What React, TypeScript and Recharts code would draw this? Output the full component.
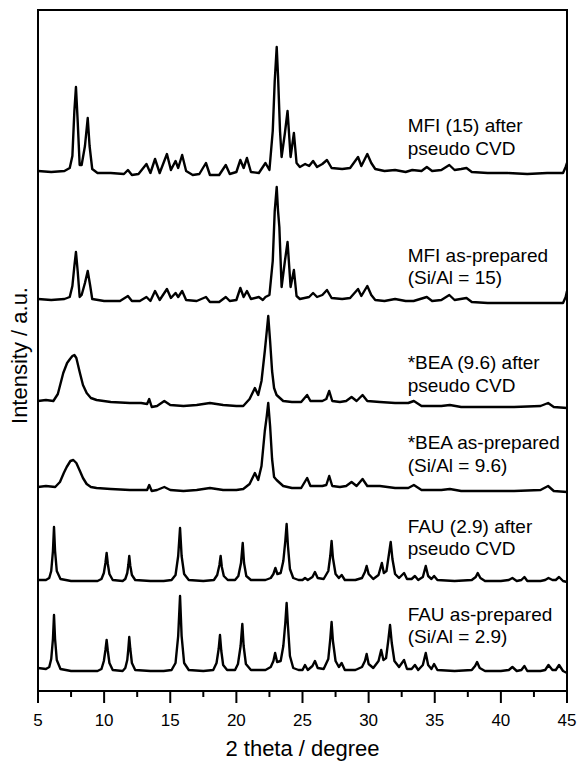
import { LineChart, Line, XAxis, YAxis, ReferenceArea, ReferenceDot, Label } from 'recharts';

// XRD patterns, [2 theta, stacked intensity]
const mfiCvd: [number, number][] = [
  [5.0, 520], [6.0, 519], [7.0, 520], [7.4, 523], [7.6, 535], [7.75, 580], [7.87, 604], [8.0, 570],
  [8.15, 526], [8.3, 526], [8.55, 545], [8.76, 573], [8.9, 545], [9.1, 522], [9.5, 518], [10.5, 518],
  [11.5, 517], [11.8, 521], [12.1, 516], [12.6, 517], [13.2, 527], [13.5, 518], [13.85, 532], [14.2, 518],
  [14.75, 537], [15.05, 521], [15.4, 530], [15.6, 523], [15.9, 536], [16.2, 520], [16.7, 516], [17.2, 517],
  [17.7, 528], [18.0, 516], [18.7, 516], [19.2, 526], [19.5, 517], [20.0, 519], [20.3, 531], [20.55, 523],
  [20.8, 533], [21.1, 519], [21.7, 518], [22.2, 528], [22.5, 521], [22.75, 560], [22.9, 610], [23.05, 644],
  [23.15, 615], [23.3, 560], [23.42, 534], [23.67, 558], [23.87, 580], [24.1, 534], [24.35, 558], [24.55, 528],
  [24.8, 524], [25.2, 527], [25.5, 525], [25.8, 530], [26.1, 524], [26.5, 527], [26.85, 531], [27.2, 523],
  [28.0, 522], [28.6, 523], [29.2, 534], [29.45, 525], [29.9, 537], [30.2, 528], [30.5, 522], [31.2, 520],
  [32.0, 521], [32.8, 519], [33.3, 521], [34.0, 520], [34.4, 524], [34.8, 520], [35.5, 521], [36.1, 526],
  [36.5, 521], [37.0, 522], [37.4, 523], [37.8, 519], [39.0, 518], [40.5, 518], [42.0, 517], [43.5, 518],
  [44.7, 518], [44.9, 524], [45.0, 528],
];

const mfiAs: [number, number][] = [
  [5.0, 392], [6.0, 391], [7.0, 392], [7.4, 394], [7.6, 405], [7.75, 425], [7.87, 439], [8.0, 420],
  [8.15, 394], [8.3, 396], [8.55, 408], [8.76, 420], [8.95, 405], [9.1, 392], [10.0, 390], [11.2, 390],
  [11.8, 395], [12.1, 390], [12.7, 390], [13.2, 394], [13.5, 390], [13.85, 400], [14.2, 391], [14.75, 402],
  [15.05, 393], [15.4, 398], [15.6, 394], [15.9, 400], [16.2, 391], [17.0, 390], [17.7, 394], [18.0, 389],
  [18.7, 389], [19.2, 394], [19.5, 390], [20.0, 391], [20.3, 403], [20.55, 394], [20.8, 400], [21.1, 392],
  [21.7, 394], [22.0, 391], [22.2, 394], [22.5, 396], [22.75, 430], [22.9, 480], [23.05, 504], [23.15, 480],
  [23.25, 464], [23.42, 404], [23.67, 430], [23.87, 449], [24.1, 404], [24.35, 421], [24.55, 395], [24.8, 392],
  [25.5, 394], [25.8, 398], [26.1, 394], [26.5, 396], [26.85, 401], [27.2, 393], [28.0, 392], [28.6, 393],
  [29.2, 402], [29.45, 395], [29.9, 405], [30.2, 396], [30.5, 391], [31.2, 390], [32.0, 392], [32.8, 390],
  [33.4, 390], [34.4, 394], [34.8, 390], [35.5, 391], [36.1, 396], [36.5, 391], [37.4, 393], [37.8, 389],
  [39.0, 388], [41.0, 388], [43.0, 388], [44.7, 388], [44.9, 394], [45.0, 400],
];

const beaCvd: [number, number][] = [
  [5.0, 290], [5.6, 291], [6.16, 290], [6.5, 297], [6.91, 318], [7.2, 328], [7.42, 332], [7.6, 335],
  [7.75, 336], [7.9, 333], [8.17, 318], [8.4, 306], [8.68, 298], [9.0, 293], [9.43, 291], [10.5, 289],
  [11.95, 288], [12.8, 288], [13.25, 287], [13.41, 292], [13.6, 284], [14.0, 285], [14.55, 290], [15.0, 286],
  [16.0, 285], [17.0, 286], [18.0, 288], [19.0, 286], [20.0, 285], [20.52, 285], [21.0, 292], [21.4, 303],
  [21.65, 296], [21.9, 310], [22.15, 340], [22.3, 360], [22.41, 375], [22.55, 350], [22.7, 320], [22.85, 303],
  [23.04, 296], [23.54, 290], [24.2, 289], [24.9, 289], [25.35, 296], [25.6, 290], [26.5, 290], [26.8, 292],
  [27.02, 300], [27.25, 290], [27.83, 289], [28.3, 290], [28.71, 294], [29.09, 290], [29.54, 296], [29.9, 290],
  [30.85, 289], [32.0, 288], [33.0, 288], [33.42, 290], [34.0, 285], [35.5, 285], [36.14, 286], [37.0, 284],
  [39.0, 284], [41.0, 284], [43.0, 285], [43.57, 288], [44.0, 284], [45.0, 283],
];

const beaAs: [number, number][] = [
  [5.0, 204], [5.6, 205], [6.3, 204], [6.66, 209], [6.95, 218], [7.17, 224], [7.45, 230], [7.67, 231],
  [7.9, 228], [8.17, 220], [8.4, 213], [8.68, 207], [9.0, 204], [9.43, 203], [10.5, 202], [11.95, 201],
  [12.8, 201], [13.25, 201], [13.41, 206], [13.6, 200], [14.0, 201], [14.55, 204], [15.0, 201], [16.0, 200],
  [17.0, 201], [18.0, 203], [19.0, 201], [20.0, 201], [20.52, 202], [21.0, 207], [21.4, 218], [21.65, 211],
  [21.9, 225], [22.15, 260], [22.3, 275], [22.41, 288], [22.55, 265], [22.7, 232], [22.85, 214], [23.04, 211],
  [23.54, 205], [24.2, 203], [24.9, 203], [25.35, 213], [25.6, 205], [26.5, 205], [26.8, 206], [27.02, 215],
  [27.25, 205], [27.83, 204], [28.3, 205], [28.71, 209], [29.09, 205], [29.54, 212], [29.9, 205], [30.85, 205],
  [32.0, 203], [33.0, 203], [33.42, 206], [34.0, 201], [35.5, 201], [36.14, 202], [37.0, 200], [39.0, 200],
  [41.0, 200], [43.0, 201], [43.57, 205], [44.0, 200], [45.0, 199],
];

const fauCvd: [number, number][] = [
  [5.0, 111], [5.6, 111], [5.85, 113], [6.0, 120], [6.13, 140], [6.21, 164], [6.29, 140], [6.42, 120],
  [6.7, 112], [7.5, 110], [8.5, 110], [9.5, 110], [9.8, 112], [9.98, 118], [10.1, 128], [10.19, 138],
  [10.28, 127], [10.4, 117], [10.65, 111], [11.4, 110], [11.6, 112], [11.75, 118], [11.83, 126], [11.9, 135],
  [11.98, 125], [12.1, 116], [12.35, 111], [13.5, 110], [14.5, 110], [15.1, 111], [15.4, 116], [15.6, 135],
  [15.74, 163], [15.86, 135], [16.05, 117], [16.4, 111], [17.5, 110], [18.3, 111], [18.55, 116], [18.72, 126],
  [18.81, 135], [18.9, 124], [19.05, 115], [19.35, 111], [19.9, 111], [20.15, 115], [20.35, 128], [20.48, 148],
  [20.58, 128], [20.75, 115], [21.1, 111], [22.2, 111], [22.6, 113], [22.8, 117], [22.95, 123], [23.1, 117],
  [23.35, 118], [23.55, 130], [23.7, 150], [23.8, 167], [23.9, 145], [24.05, 122], [24.3, 113], [24.7, 111],
  [25.0, 111], [25.19, 113], [25.4, 111], [25.75, 114], [25.94, 119], [26.15, 113], [26.6, 112], [26.95, 120],
  [27.1, 135], [27.2, 150], [27.3, 133], [27.5, 117], [27.75, 113], [27.96, 116], [28.2, 111], [29.0, 111],
  [29.5, 113], [29.72, 119], [29.85, 125], [30.0, 117], [30.35, 112], [30.75, 116], [31.0, 128], [31.15, 118],
  [31.35, 120], [31.55, 138], [31.67, 149], [31.8, 132], [32.0, 117], [32.3, 113], [32.68, 118], [32.9, 112],
  [33.25, 112], [33.5, 115], [33.75, 111], [34.1, 114], [34.32, 125], [34.5, 115], [34.75, 112], [34.95, 115],
  [35.2, 111], [36.5, 110], [37.8, 111], [38.1, 114], [38.25, 118], [38.45, 113], [38.8, 110], [40.0, 110],
  [40.6, 111], [40.87, 113], [41.2, 110], [41.55, 111], [41.78, 114], [42.0, 110], [43.0, 110], [43.35, 111],
  [43.6, 113], [43.9, 111], [44.15, 111], [44.4, 114], [44.7, 110], [45.0, 109],
];

const fauAs: [number, number][] = [
  [5.0, 23], [5.6, 22], [5.85, 24], [6.0, 32], [6.13, 52], [6.21, 76], [6.29, 52], [6.42, 31],
  [6.7, 22], [7.5, 20], [8.5, 20], [9.5, 20], [9.8, 22], [9.98, 30], [10.1, 41], [10.19, 51],
  [10.28, 40], [10.4, 28], [10.65, 21], [11.4, 20], [11.6, 23], [11.75, 31], [11.83, 42], [11.9, 54],
  [11.98, 42], [12.1, 28], [12.35, 21], [13.5, 20], [14.5, 20], [15.1, 21], [15.4, 28], [15.6, 55],
  [15.74, 95], [15.86, 55], [16.05, 28], [16.4, 21], [17.5, 20], [18.25, 21], [18.5, 28], [18.66, 42],
  [18.76, 56], [18.86, 40], [19.0, 26], [19.3, 21], [19.9, 21], [20.12, 27], [20.32, 45], [20.45, 67],
  [20.55, 45], [20.72, 27], [21.1, 21], [22.2, 21], [22.6, 24], [22.8, 30], [22.93, 38], [23.08, 29],
  [23.35, 30], [23.55, 45], [23.7, 68], [23.8, 88], [23.9, 65], [24.05, 35], [24.3, 23], [24.7, 21],
  [25.0, 21], [25.19, 26], [25.4, 21], [25.75, 25], [25.94, 30], [26.15, 23], [26.6, 22], [26.95, 32],
  [27.1, 52], [27.2, 69], [27.3, 50], [27.5, 30], [27.75, 24], [27.96, 28], [28.2, 21], [29.0, 21],
  [29.5, 24], [29.72, 30], [29.85, 37], [30.0, 27], [30.35, 23], [30.75, 30], [30.95, 41], [31.12, 31],
  [31.32, 33], [31.5, 52], [31.62, 66], [31.75, 48], [31.95, 30], [32.3, 24], [32.68, 31], [32.9, 22],
  [33.25, 22], [33.5, 26], [33.75, 21], [34.1, 26], [34.32, 38], [34.5, 26], [34.75, 22], [34.95, 27],
  [35.2, 21], [36.5, 20], [37.8, 21], [38.05, 25], [38.2, 29], [38.4, 23], [38.8, 20], [40.0, 20],
  [40.6, 21], [40.87, 24], [41.2, 20], [41.55, 21], [41.78, 25], [42.0, 20], [43.0, 20], [43.35, 21],
  [43.6, 26], [43.9, 21], [44.15, 21], [44.4, 26], [44.7, 20], [45.0, 18],
];

const traces = [mfiCvd, mfiAs, beaCvd, beaAs, fauCvd, fauAs];

const sampleNames: [string, string][] = [
  ['MFI (15) after', 'pseudo CVD'],
  ['MFI as-prepared', '(Si/Al = 15)'],
  ['*BEA (9.6) after', 'pseudo CVD'],
  ['*BEA as-prepared', '(Si/Al = 9.6)'],
  ['FAU (2.9) after', 'pseudo CVD'],
  ['FAU as-prepared', '(Si/Al = 2.9)'],
];
// where each two-line label starts (2 theta, intensity of first baseline)
const labelAnchorX = 32.95;
const labelAnchorY = [559, 429.5, 321.7, 241.7, 158.3, 70.3];

const majorTicks = [5, 10, 15, 20, 25, 30, 35, 40, 45];
const allTicks = [5, 7.5, 10, 12.5, 15, 17.5, 20, 22.5, 25, 27.5, 30, 32.5, 35, 37.5, 40, 42.5, 45];

const FONT = '"Liberation Sans", Arial, sans-serif';

function XTick(props: any) {
  const { x, y, payload } = props;
  const major = majorTicks.includes(payload.value);
  return (
    <g>
      <line x1={x} x2={x} y1={y - 12} y2={major ? y : y - 6} stroke="#000" strokeWidth={2} />
      {major && (
        <text x={x} y={y + 23} textAnchor="middle" fontSize={17} fill="#000" fontFamily={FONT}>
          {payload.value}
        </text>
      )}
    </g>
  );
}

function SampleLabel(props: any) {
  const { viewBox, lines } = props;
  const x = viewBox.x;
  return (
    <text x={x} y={viewBox.y} fontSize={19} fill="#000" fontFamily={FONT}>
      <tspan x={x} dy={0}>{lines[0]}</tspan>
      <tspan x={x} dy={22.5}>{lines[1]}</tspan>
    </text>
  );
}

function YTitle(props: any) {
  const { viewBox } = props;
  const cx = viewBox.x + viewBox.width / 2;
  const cy = viewBox.y + viewBox.height / 2 + 5;
  return (
    <text
      x={cx}
      y={cy}
      transform={`rotate(-90 ${cx} ${cy})`}
      textAnchor="middle"
      dominantBaseline="central"
      fontSize={22}
      fill="#000"
      fontFamily={FONT}
    >
      Intensity / a.u.
    </text>
  );
}

export default function App() {
  return (
    <div style={{ position: 'absolute', left: 0, top: 0, background: '#fff', fontFamily: FONT }}>
      <LineChart width={580} height={762} margin={{ top: 10, right: 13, bottom: 0, left: 0 }}>
        <XAxis
          type="number"
          dataKey="t"
          domain={[5, 45]}
          ticks={allTicks}
          interval={0}
          allowDataOverflow
          height={71}
          tickSize={12}
          tickMargin={0}
          tickLine={false}
          axisLine={{ stroke: '#000', strokeWidth: 2 }}
          tick={<XTick />}
        >
          <Label value="2 theta / degree" position="insideBottom" offset={6} fontSize={22} fill="#000" />
        </XAxis>
        <YAxis
          type="number"
          domain={[0, 681]}
          allowDataOverflow
          width={38}
          tick={false}
          tickLine={false}
          axisLine={false}
        >
          <Label content={<YTitle />} />
        </YAxis>
        <ReferenceArea x1={5} x2={45} y1={0} y2={681} fill="none" stroke="#000" strokeWidth={2} />
        {traces.map((tr, k) => (
          <Line
            key={k}
            data={tr.map(([t, i]) => ({ t, i }))}
            dataKey="i"
            type="linear"
            stroke="#000"
            strokeWidth={2.4}
            strokeLinejoin="round"
            dot={false}
            activeDot={false}
            isAnimationActive={false}
          />
        ))}
        {sampleNames.map((lines, k) => (
          <ReferenceDot
            key={'lbl' + k}
            x={labelAnchorX}
            y={labelAnchorY[k]}
            r={0}
            fill="none"
            stroke="none"
            label={<SampleLabel lines={lines} />}
          />
        ))}
      </LineChart>
    </div>
  );
}
